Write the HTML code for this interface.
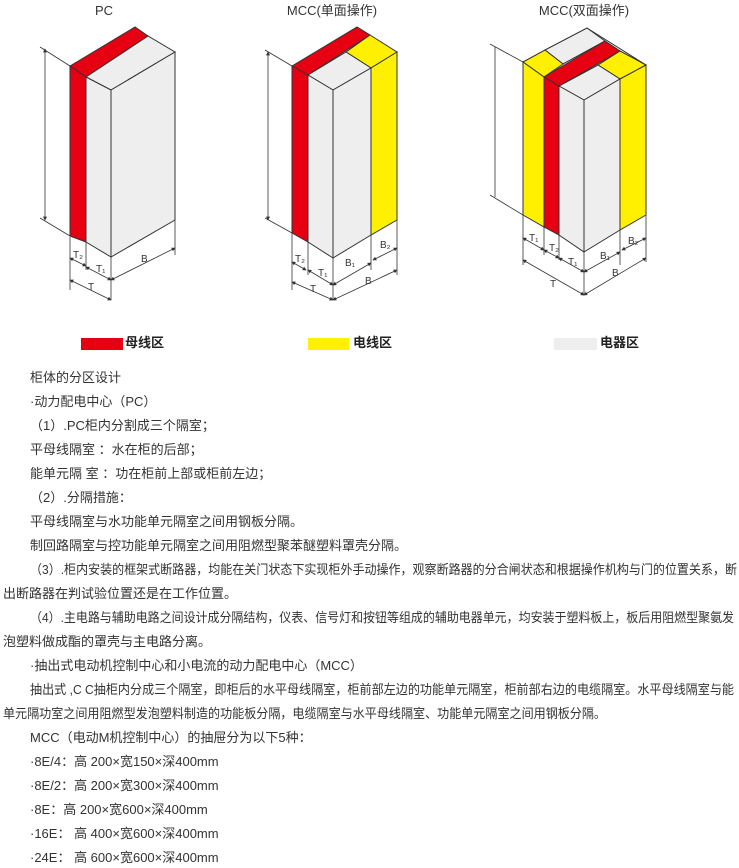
<!DOCTYPE html>
<html><head><meta charset="utf-8"><style>
html,body{margin:0;padding:0;background:#fff;width:739px;height:868px;overflow:hidden;position:relative}
.t{position:absolute;font-family:"Liberation Sans","Noto Sans CJK SC",sans-serif;font-size:13px;color:#333;white-space:nowrap;line-height:16px;transform-origin:0 50%}
svg text{font-family:"Liberation Sans","Noto Sans CJK SC",sans-serif}
</style></head><body>
<svg width="739" height="330" style="position:absolute;left:0;top:0" stroke="#333" stroke-width="1">
<defs><marker id="a" viewBox="0 0 6 6" refX="5" refY="3" markerWidth="5" markerHeight="5" orient="auto-start-reverse"><path d="M0,0L6,3L0,6z" fill="#333" stroke="none"/></marker></defs>
<g font-size="13" fill="#333" stroke="none" text-anchor="middle">
<text x="104" y="15">PC</text><text x="332" y="15">MCC(单面操作)</text><text x="584" y="15">MCC(双面操作)</text></g>
<!-- PC -->
<polygon points="70,66 135,27 148,36 86,77" fill="#e60012"/>
<polygon points="86,77 148,36 175,52 111,90" fill="#eee"/>
<polygon points="70,66 86,77 86,242 70,236" fill="#e60012"/>
<polygon points="86,77 111,90 111,257 86,242" fill="#eee"/>
<polygon points="111,90 175,52 175,220 111,257" fill="#eee"/>
<g fill="none" stroke-width="0.8">
<line x1="40" y1="47" x2="70" y2="66"/><line x1="40" y1="218" x2="70" y2="236"/>
<line x1="45" y1="49" x2="45" y2="220" marker-start="url(#a)" marker-end="url(#a)"/>
<line x1="70" y1="237" x2="70" y2="290"/><line x1="86" y1="242" x2="86" y2="270"/><line x1="111" y1="257" x2="111" y2="300"/><line x1="175" y1="220" x2="175" y2="255"/>
<line x1="70" y1="258" x2="86" y2="266" marker-start="url(#a)" marker-end="url(#a)"/>
<line x1="86" y1="267" x2="111" y2="280" marker-start="url(#a)" marker-end="url(#a)"/>
<line x1="70" y1="280" x2="111" y2="300" marker-start="url(#a)" marker-end="url(#a)"/>
<line x1="111" y1="280" x2="175" y2="248" marker-start="url(#a)" marker-end="url(#a)"/>
</g>
<g font-size="10" fill="#333" stroke="none"><text x="73" y="258">T₂</text><text x="96" y="272">T₁</text><text x="88" y="290">T</text><text x="141" y="262">B</text></g>
<!-- MCC single -->
<polygon points="292,66 357,27 370,35 308,75" fill="#e60012"/>
<polygon points="370,35 397,52 371,68 346,52" fill="#fff000"/>
<polygon points="308,75 346,52 371,68 333,90" fill="#eee"/>
<polygon points="292,66 308,75 308,242 292,233" fill="#e60012"/>
<polygon points="308,75 333,90 333,258 308,242" fill="#eee"/>
<polygon points="333,90 371,68 371,235 333,258" fill="#eee"/>
<polygon points="371,68 397,52 397,220 371,235" fill="#fff000"/>
<g fill="none" stroke-width="0.8">
<line x1="265" y1="50" x2="292" y2="66"/><line x1="265" y1="218" x2="292" y2="233"/>
<line x1="268" y1="52" x2="268" y2="220" marker-start="url(#a)" marker-end="url(#a)"/>
<line x1="292" y1="233" x2="292" y2="290"/><line x1="308" y1="242" x2="308" y2="275"/><line x1="333" y1="258" x2="333" y2="300"/><line x1="371" y1="235" x2="371" y2="270"/><line x1="397" y1="220" x2="397" y2="275"/>
<line x1="292" y1="262" x2="306" y2="270" marker-start="url(#a)" marker-end="url(#a)"/>
<line x1="308" y1="270" x2="333" y2="285" marker-start="url(#a)" marker-end="url(#a)"/>
<line x1="292" y1="282" x2="333" y2="300" marker-start="url(#a)" marker-end="url(#a)"/>
<line x1="333" y1="285" x2="371" y2="263" marker-start="url(#a)" marker-end="url(#a)"/>
<line x1="373" y1="260" x2="397" y2="248" marker-start="url(#a)" marker-end="url(#a)"/>
<line x1="333" y1="300" x2="397" y2="270" marker-start="url(#a)" marker-end="url(#a)"/>
</g>
<g font-size="10" fill="#333" stroke="none"><text x="295" y="262">T₂</text><text x="318" y="276">T₁</text><text x="310" y="292">T</text><text x="345" y="266">B₁</text><text x="380" y="248">B₂</text><text x="365" y="284">B</text></g>
<!-- MCC double -->
<polygon points="545,50 587,28 605,41 563,64" fill="#eee"/>
<polygon points="523,62 545,50 563,64 544,77" fill="#fff000"/>
<polygon points="544,77 605,41 620,51 559,86" fill="#e60012"/>
<polygon points="598,65 620,51 646,65 620,79" fill="#fff000"/>
<polygon points="559,86 598,65 620,79 584,100" fill="#eee"/>
<polygon points="523,62 544,77 544,227 523,215" fill="#fff000"/>
<polygon points="544,77 559,86 559,235 544,227" fill="#e60012"/>
<polygon points="559,86 584,100 584,252 559,235" fill="#eee"/>
<polygon points="584,100 620,79 620,230 584,252" fill="#eee"/>
<polygon points="620,79 646,65 646,215 620,230" fill="#fff000"/>
<line x1="587" y1="28" x2="646" y2="65" fill="none"/>
<g fill="none" stroke-width="0.8">
<line x1="490" y1="44" x2="523" y2="62"/><line x1="490" y1="195" x2="523" y2="215"/>
<line x1="495" y1="47" x2="495" y2="197"/>
<line x1="523" y1="215" x2="523" y2="265"/><line x1="544" y1="227" x2="544" y2="255"/><line x1="559" y1="235" x2="559" y2="260"/><line x1="584" y1="252" x2="584" y2="295"/><line x1="620" y1="230" x2="620" y2="265"/><line x1="646" y1="215" x2="646" y2="262"/>
<line x1="523" y1="238" x2="544" y2="250" marker-start="url(#a)" marker-end="url(#a)"/>
<line x1="544" y1="250" x2="559" y2="258" marker-start="url(#a)" marker-end="url(#a)"/>
<line x1="559" y1="258" x2="584" y2="272" marker-start="url(#a)" marker-end="url(#a)"/>
<line x1="523" y1="260" x2="584" y2="295" marker-start="url(#a)" marker-end="url(#a)"/>
<line x1="584" y1="272" x2="620" y2="252" marker-start="url(#a)" marker-end="url(#a)"/>
<line x1="622" y1="250" x2="646" y2="238" marker-start="url(#a)" marker-end="url(#a)"/>
<line x1="584" y1="295" x2="646" y2="258" marker-start="url(#a)" marker-end="url(#a)"/>
</g>
<g font-size="10" fill="#333" stroke="none"><text x="529" y="241">T₁</text><text x="549" y="251">T₂</text><text x="568" y="265">T₁</text><text x="550" y="287">T</text><text x="600" y="259">B₁</text><text x="628" y="244">B₂</text><text x="612" y="276">B</text></g>
</svg>
<div style="position:absolute;left:81px;top:338px;width:42px;height:12px;background:#e60012"></div>
<div class="t" style="left:125px;top:335px;color:#222;font-weight:bold">母线区</div>
<div style="position:absolute;left:308px;top:338px;width:41px;height:12px;background:#fff000"></div>
<div class="t" style="left:353px;top:335px;color:#222;font-weight:bold">电线区</div>
<div style="position:absolute;left:554px;top:338px;width:43px;height:12px;background:#eee"></div>
<div class="t" style="left:600px;top:335px;color:#222;font-weight:bold">电器区</div>

<div class="t" style="left:30px;top:370px">柜体的分区设计</div>
<div class="t" style="left:30px;top:394px">·动力配电中心（PC）</div>
<div class="t" style="left:30px;top:418px">（1）.PC柜内分割成三个隔室；</div>
<div class="t" style="left:30px;top:442px">平母线隔室 ：水在柜的后部；</div>
<div class="t" style="left:30px;top:466px">能单元隔 室 ：功在柜前上部或柜前左边；</div>
<div class="t" style="left:30px;top:490px">（2）.分隔措施：</div>
<div class="t" style="left:30px;top:514px">平母线隔室与水功能单元隔室之间用钢板分隔。</div>
<div class="t" style="left:30px;top:538px">制回路隔室与控功能单元隔室之间用阻燃型聚苯醚塑料罩壳分隔。</div>
<div class="t fit" data-w="707" style="left:30px;top:562px">（3）.柜内安装的框架式断路器，均能在关门状态下实现柜外手动操作，观察断路器的分合闸状态和根据操作机构与门的位置关系，断</div>
<div class="t" style="left:3px;top:586px">出断路器在判试验位置还是在工作位置。</div>
<div class="t fit" data-w="704" style="left:30px;top:610px">（4）.主电路与辅助电路之间设计成分隔结构，仪表、信号灯和按钮等组成的辅助电器单元，均安装于塑料板上，板后用阻燃型聚氨发</div>
<div class="t" style="left:3px;top:634px">泡塑料做成酯的罩壳与主电路分离。</div>
<div class="t" style="left:30px;top:658px">·抽出式电动机控制中心和小电流的动力配电中心（MCC）</div>
<div class="t fit" data-w="704" style="left:30px;top:682px">抽出式 ,C C抽柜内分成三个隔室，即柜后的水平母线隔室，柜前部左边的功能单元隔室，柜前部右边的电缆隔室。水平母线隔室与能</div>
<div class="t fit" data-w="603" style="left:3px;top:706px">单元隔功室之间用阻燃型发泡塑料制造的功能板分隔，电缆隔室与水平母线隔室、功能单元隔室之间用钢板分隔。</div>
<div class="t" style="left:30px;top:730px">MCC（电动M机控制中心）的抽屉分为以下5种：</div>
<div class="t" style="left:30px;top:754px">·8E/4：高 200×宽150×深400mm</div>
<div class="t" style="left:30px;top:778px">·8E/2：高 200×宽300×深400mm</div>
<div class="t" style="left:30px;top:802px">·8E：高 200×宽600×深400mm</div>
<div class="t" style="left:30px;top:826px">·16E： 高 400×宽600×深400mm</div>
<div class="t" style="left:30px;top:850px">·24E： 高 600×宽600×深400mm</div>
<script>
document.querySelectorAll('.fit').forEach(function(e){var w=e.getBoundingClientRect().width;var t=+e.getAttribute('data-w');if(w>0){e.style.transform='scaleX('+(t/w)+')';}});
</script>
</body></html>
